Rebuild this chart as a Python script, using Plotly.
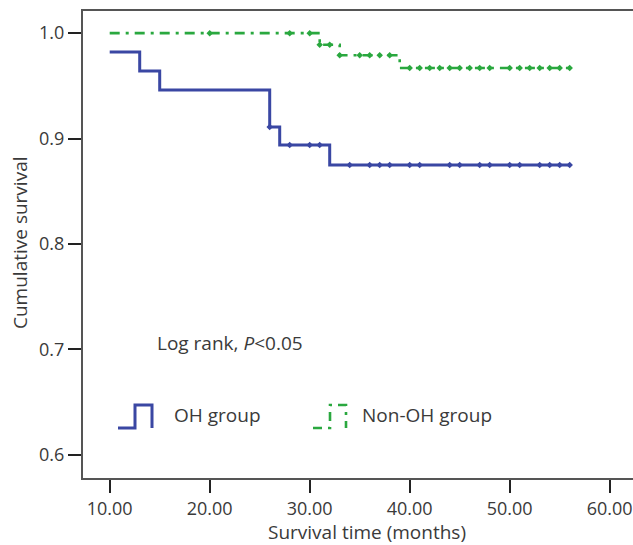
import plotly.graph_objects as go
import numpy as np

# ---------------- data ----------------
group_names = ["OH group", "Non-OH group"]

# OH group: Kaplan-Meier step curve (time in months, cumulative survival)
oh_times = [10, 13, 15, 26, 27, 32, 56]
oh_surv = [0.982, 0.964, 0.946, 0.911, 0.894, 0.875, 0.875]
oh_censored = [26, 28, 30, 31, 34, 36, 37, 38, 40, 41, 44, 45, 47, 48, 50, 51, 53, 54, 55, 56]

# Non-OH group
non_times = [10, 31, 33, 39, 56]
non_surv = [1.0, 0.989, 0.979, 0.967, 0.967]
non_censored = [20, 28, 30, 31, 32, 33, 35, 36, 37, 38, 40, 41, 42, 43, 44, 45, 46, 47, 48,
                50, 51, 52, 53, 54, 55, 56]

x_ticks = [10, 20, 30, 40, 50, 60]
x_tick_labels = ["10.00", "20.00", "30.00", "40.00", "50.00", "60.00"]
y_ticks = [0.6, 0.7, 0.8, 0.9, 1.0]
y_tick_labels = ["0.6", "0.7", "0.8", "0.9", "1.0"]

annotation_text = "Log rank, <i>P</i>&lt;0.05"
x_title = "Survival time (months)"
y_title = "Cumulative survival"

BLUE = "#3a47a3"
GREEN = "#2aa83f"
FONT = "Open Sans"
TXT = "#3a3a3a"
TS = 19     # text size
KS = 18     # tick label size

W, H = 633, 545
ML, MR, MT, MB = 83, 0, 11, 67
XR = [7.33, 62.33]
YR = [0.578, 1.021]


def step_value(times, surv, t):
    idx = np.searchsorted(times, t, side="right") - 1
    return surv[max(idx, 0)]


fig = go.Figure()

fig.add_trace(go.Scatter(x=oh_times, y=oh_surv, mode="lines", line_shape="hv",
                         line=dict(color=BLUE, width=3), name=group_names[0],
                         showlegend=False))
fig.add_trace(go.Scatter(x=oh_censored, y=[step_value(oh_times, oh_surv, t) for t in oh_censored],
                         mode="markers", marker=dict(symbol="diamond", size=5, color=BLUE),
                         showlegend=False))

fig.add_trace(go.Scatter(x=non_times, y=non_surv, mode="lines", line_shape="hv",
                         line=dict(color=GREEN, width=2.6, dash="10px,6px,3px,6px"),
                         name=group_names[1], showlegend=False))
fig.add_trace(go.Scatter(x=non_censored, y=[step_value(non_times, non_surv, t) for t in non_censored],
                         mode="markers", marker=dict(symbol="diamond", size=5, color=GREEN),
                         showlegend=False))

# helpers converting pixel positions to paper coordinates (for legend decoration)
PW = W - ML - MR
PH = H - MT - MB


def px(xp):
    return (xp - ML) / PW


def py(yp):
    return (H - MB - yp) / PH


shapes = []
# legend icon OH group (step symbol)
shapes.append(dict(type="path", xref="paper", yref="paper",
                   path=f"M {px(118)} {py(428)} L {px(135)} {py(428)} L {px(135)} {py(405)} "
                        f"L {px(152)} {py(405)} L {px(152)} {py(428)}",
                   line=dict(color=BLUE, width=3)))
# legend icon Non-OH group (dashed step symbol)
shapes.append(dict(type="path", xref="paper", yref="paper",
                   path=f"M {px(313)} {py(428)} L {px(330)} {py(428)} L {px(330)} {py(405)} "
                        f"L {px(346)} {py(405)} L {px(346)} {py(428)}",
                   line=dict(color=GREEN, width=2.6, dash="9px,6px,3px,6px")))

annotations = [
    dict(text=annotation_text, x=px(155), y=py(343), xref="paper", yref="paper",
         xanchor="left", yanchor="middle", showarrow=False,
         font=dict(family=FONT, size=TS, color=TXT)),
    dict(text=group_names[0], x=px(172), y=py(415), xref="paper", yref="paper",
         xanchor="left", yanchor="middle", showarrow=False,
         font=dict(family=FONT, size=TS, color=TXT)),
    dict(text=group_names[1], x=px(360), y=py(415), xref="paper", yref="paper",
         xanchor="left", yanchor="middle", showarrow=False,
         font=dict(family=FONT, size=TS, color=TXT)),
    dict(text=x_title, x=px(367), y=py(532), xref="paper", yref="paper",
         xanchor="center", yanchor="middle", showarrow=False,
         font=dict(family=FONT, size=TS, color=TXT)),
    dict(text=y_title, x=px(20), y=py(243), xref="paper", yref="paper",
         xanchor="center", yanchor="middle", showarrow=False, textangle=-90,
         font=dict(family=FONT, size=TS, color=TXT)),
]

fig.update_layout(
    width=W, height=H,
    margin=dict(l=ML, r=MR, t=MT, b=MB, pad=0),
    paper_bgcolor="white", plot_bgcolor="white",
    showlegend=False,
    shapes=shapes,
    annotations=annotations,
    font=dict(family=FONT, color=TXT),
)

fig.update_xaxes(range=XR, tickvals=x_ticks, ticktext=x_tick_labels,
                 showgrid=False, zeroline=False,
                 showline=True, linecolor="#555555", linewidth=2, mirror=True,
                 ticks="outside", ticklen=13, tickwidth=2, tickcolor="#222222",
                 tickfont=dict(family=FONT, size=KS, color=TXT))
fig.update_yaxes(range=YR, tickvals=y_ticks, ticktext=y_tick_labels,
                 showgrid=False, zeroline=False,
                 showline=True, linecolor="#555555", linewidth=2,
                 ticks="outside", ticklen=13, tickwidth=2, tickcolor="#222222",
                 tickfont=dict(family=FONT, size=KS, color=TXT))

fig.write_html("out.html",
               config={"displayModeBar": False},
               post_script="document.body.style.margin='0';document.body.style.padding='0';"
                           "document.body.style.overflow='hidden';")
